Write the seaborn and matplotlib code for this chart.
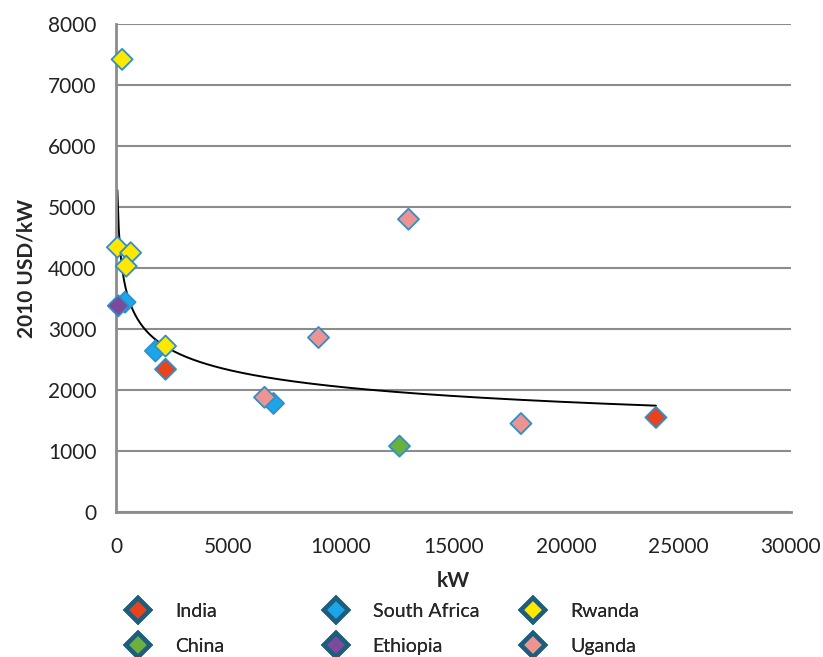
import numpy as np
import pandas as pd
import matplotlib.pyplot as plt
from matplotlib.lines import Line2D
import seaborn as sns

# ── Data ──────────────────────────────────────────────────────────────────────
countries = ['India', 'India',
             'China',
             'South Africa', 'South Africa', 'South Africa',
             'Ethiopia',
             'Rwanda', 'Rwanda', 'Rwanda', 'Rwanda', 'Rwanda',
             'Uganda', 'Uganda', 'Uganda', 'Uganda']
kw = [2200, 24000,
      12600,
      400, 1750, 7000,
      100,
      270, 60, 650, 450, 2200,
      6600, 9000, 13000, 18000]
usd_per_kw = [2340, 1550,
              1080,
              3440, 2640, 1780,
              3380,
              7420, 4340, 4250, 4030, 2720,
              1880, 2860, 4800, 1450]

legend_cols = [['India', 'China'], ['South Africa', 'Ethiopia'], ['Rwanda', 'Uganda']]
colors = {'India': '#E8431C', 'China': '#6BB03F', 'South Africa': '#1BA6EA',
          'Ethiopia': '#7B4A9B', 'Rwanda': '#FFE800', 'Uganda': '#EC9491'}

df = pd.DataFrame({'country': countries, 'kW': kw, 'usd': usd_per_kw})

# ── Power trendline (log-log least squares, like Excel) ───────────────────────
b, log_a = np.polyfit(np.log(df['kW']), np.log(df['usd']), 1)
xs = np.linspace(df['kW'].min(), df['kW'].max(), 400)
ys = np.exp(log_a) * xs ** b

# ── Plot ──────────────────────────────────────────────────────────────────────
sns.set_style('white')
plt.rcParams['font.family'] = ['Lato', 'DejaVu Sans']

fig = plt.figure(figsize=(8.23, 6.57), dpi=100)
ax = fig.add_axes([0.141, 0.2207, 0.82, 0.7428])

ax.plot(xs, ys, color='black', lw=1.4, zorder=2)
sns.scatterplot(data=df, x='kW', y='usd', hue='country', palette=colors,
                marker='D', s=115, edgecolor='#2F8FCB', linewidth=1.3,
                legend=False, ax=ax, zorder=3, clip_on=False)

ax.set_xlim(0, 30000)
ax.set_ylim(0, 8000)
ax.set_xticks(range(0, 30001, 5000))
ax.set_yticks(range(0, 8001, 1000))
ax.yaxis.grid(True, color='#8C8C8C', lw=1.5)
ax.set_axisbelow(True)
for s in ['top', 'right']:
    ax.spines[s].set_visible(False)
for s in ['left', 'bottom']:
    ax.spines[s].set_color('#8C8C8C')
    ax.spines[s].set_linewidth(2)
ax.tick_params(axis='both', length=8, width=1.5, color='#8C8C8C',
               labelsize=15, labelcolor='#222222', direction='out')
ax.tick_params(axis='x', pad=10)
ax.tick_params(axis='y', pad=6)
ax.set_xlabel('kW', fontsize=15, fontweight='bold', labelpad=10)
ax.set_ylabel('2010 USD/kW', fontsize=15, fontweight='bold', labelpad=8)

# three one-column legends, evenly spaced like the Excel legend
for i, col in enumerate(legend_cols):
    handles = [Line2D([], [], ls='', marker='D', markersize=12,
                      markerfacecolor=colors[c], markeredgecolor='#1D5E7E',
                      markeredgewidth=3.2, label=c) for c in col]
    leg = fig.legend(handles=handles, loc='lower left',
                     bbox_to_anchor=(0.123 + i * 0.24, -0.024), frameon=False,
                     fontsize=14, handletextpad=0.9, labelspacing=0.96)
    fig.add_artist(leg)

plt.savefig('out.png', dpi=100)
plt.close()
